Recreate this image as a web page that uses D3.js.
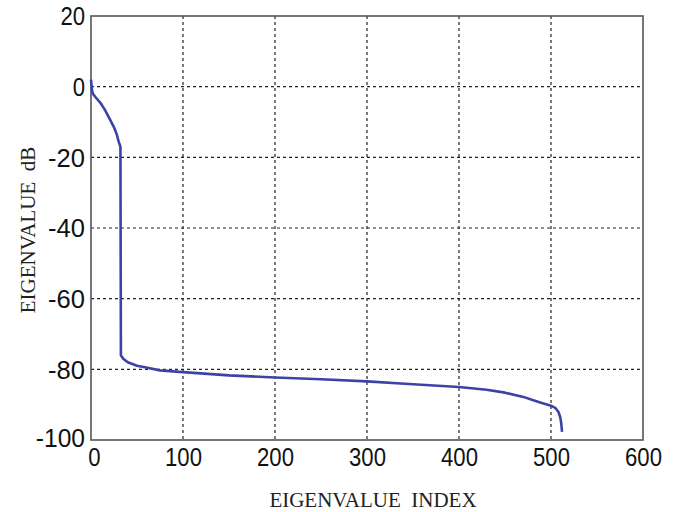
<!DOCTYPE html>
<html>
<head>
<meta charset="utf-8">
<script src="https://cdn.jsdelivr.net/npm/d3@7"></script>
<style>
  body { margin: 0; background: #fff; }
  .tick text { font-family: "Liberation Sans", Arial, sans-serif; }
</style>
</head>
<body>
<svg id="chart" width="693" height="512"></svg>
<script>
// eigenvalue curve
const eigIndex = [0, 1, 2, 5, 10, 15, 20, 25, 28, 30, 32, 32.5, 35, 40, 50, 60, 75, 100, 150, 200, 250, 300, 350, 400, 430, 450, 470, 480, 490, 500, 505, 508, 510, 511, 512];
const eigDb = [2, -1, -2, -3, -4.5, -6.5, -9, -11.5, -13.5, -15.5, -17, -76, -77, -78, -79, -79.5, -80.3, -80.8, -81.7, -82.3, -82.8, -83.4, -84.2, -85, -85.8, -86.6, -87.8, -88.7, -89.5, -90.3, -91, -92, -93.5, -95, -97.7];
const xTicks = [0, 100, 200, 300, 400, 500, 600];
const yTicks = [20, 0, -20, -40, -60, -80, -100];

const margin = { top: 16, right: 50, bottom: 72, left: 91 },
  width = 693, height = 512,
  innerWidth = width - margin.left - margin.right,
  innerHeight = height - margin.top - margin.bottom;

const svg = d3.select('#chart');
const g = svg.append('g').attr('transform', `translate(${margin.left},${margin.top})`);

const xScale = d3.scaleLinear().domain([0, 600]).range([0, innerWidth]);
const yScale = d3.scaleLinear().domain([-100, 20]).range([innerHeight, 0]);

const fmt = d => String(d); // plain hyphen minus like the original
const squeeze = sel => sel
  .attr('font-size', 25).attr('fill', '#111')
  .attr('textLength', d => fmt(d).length * 12.3)
  .attr('lengthAdjust', 'spacingAndGlyphs');

// dotted grid
g.selectAll('.vgrid').data(xTicks.slice(1, -1)).join('line').attr('class', 'vgrid')
  .attr('x1', d => xScale(d)).attr('x2', d => xScale(d))
  .attr('y1', 0).attr('y2', innerHeight)
  .attr('stroke', '#222').attr('stroke-width', 1.2).attr('stroke-dasharray', '3,3');
g.selectAll('.hgrid').data(yTicks.slice(1, -1)).join('line').attr('class', 'hgrid')
  .attr('x1', 0).attr('x2', innerWidth)
  .attr('y1', d => yScale(d)).attr('y2', d => yScale(d))
  .attr('stroke', '#222').attr('stroke-width', 1.2).attr('stroke-dasharray', '3,3');

// axes (no tick marks, just labels)
g.append('g').attr('transform', `translate(0,${innerHeight})`)
  .call(d3.axisBottom(xScale).tickValues(xTicks).tickFormat(fmt).tickSize(0).tickPadding(8))
  .call(a => a.select('.domain').remove())
  .selectAll('text').call(squeeze).attr('dy', '0.72em')
  .attr('dx', d => d === 0 ? 3 : 0);

g.append('g')
  .call(d3.axisLeft(yScale).tickValues(yTicks).tickFormat(fmt).tickSize(0).tickPadding(6))
  .call(a => a.select('.domain').remove())
  .selectAll('text').call(squeeze)
  .attr('dy', d => d === -100 ? '0.25em' : '0.35em');

// frame
g.append('rect').attr('width', innerWidth).attr('height', innerHeight)
  .attr('fill', 'none').attr('stroke', '#555').attr('stroke-width', 1.6);

// curve
const line = d3.line().x((d, i) => xScale(eigIndex[i])).y(d => yScale(d));
g.append('path').datum(eigDb).attr('d', line)
  .attr('fill', 'none').attr('stroke', '#3b44a6').attr('stroke-width', 2.6)
  .attr('stroke-linejoin', 'round');

// axis titles
svg.append('text').text('EIGENVALUE  INDEX')
  .attr('x', 373).attr('y', 507)
  .attr('text-anchor', 'middle').attr('font-family', '"Liberation Serif", "Times New Roman", serif')
  .attr('font-size', 21).attr('fill', '#222').style('white-space', 'pre');

svg.append('text').text('EIGENVALUE  dB')
  .attr('transform', `translate(35,230) rotate(-90)`)
  .attr('text-anchor', 'middle').attr('font-family', '"Liberation Serif", "Times New Roman", serif')
  .attr('font-size', 21).attr('fill', '#222').style('white-space', 'pre');
</script>
</body>
</html>
